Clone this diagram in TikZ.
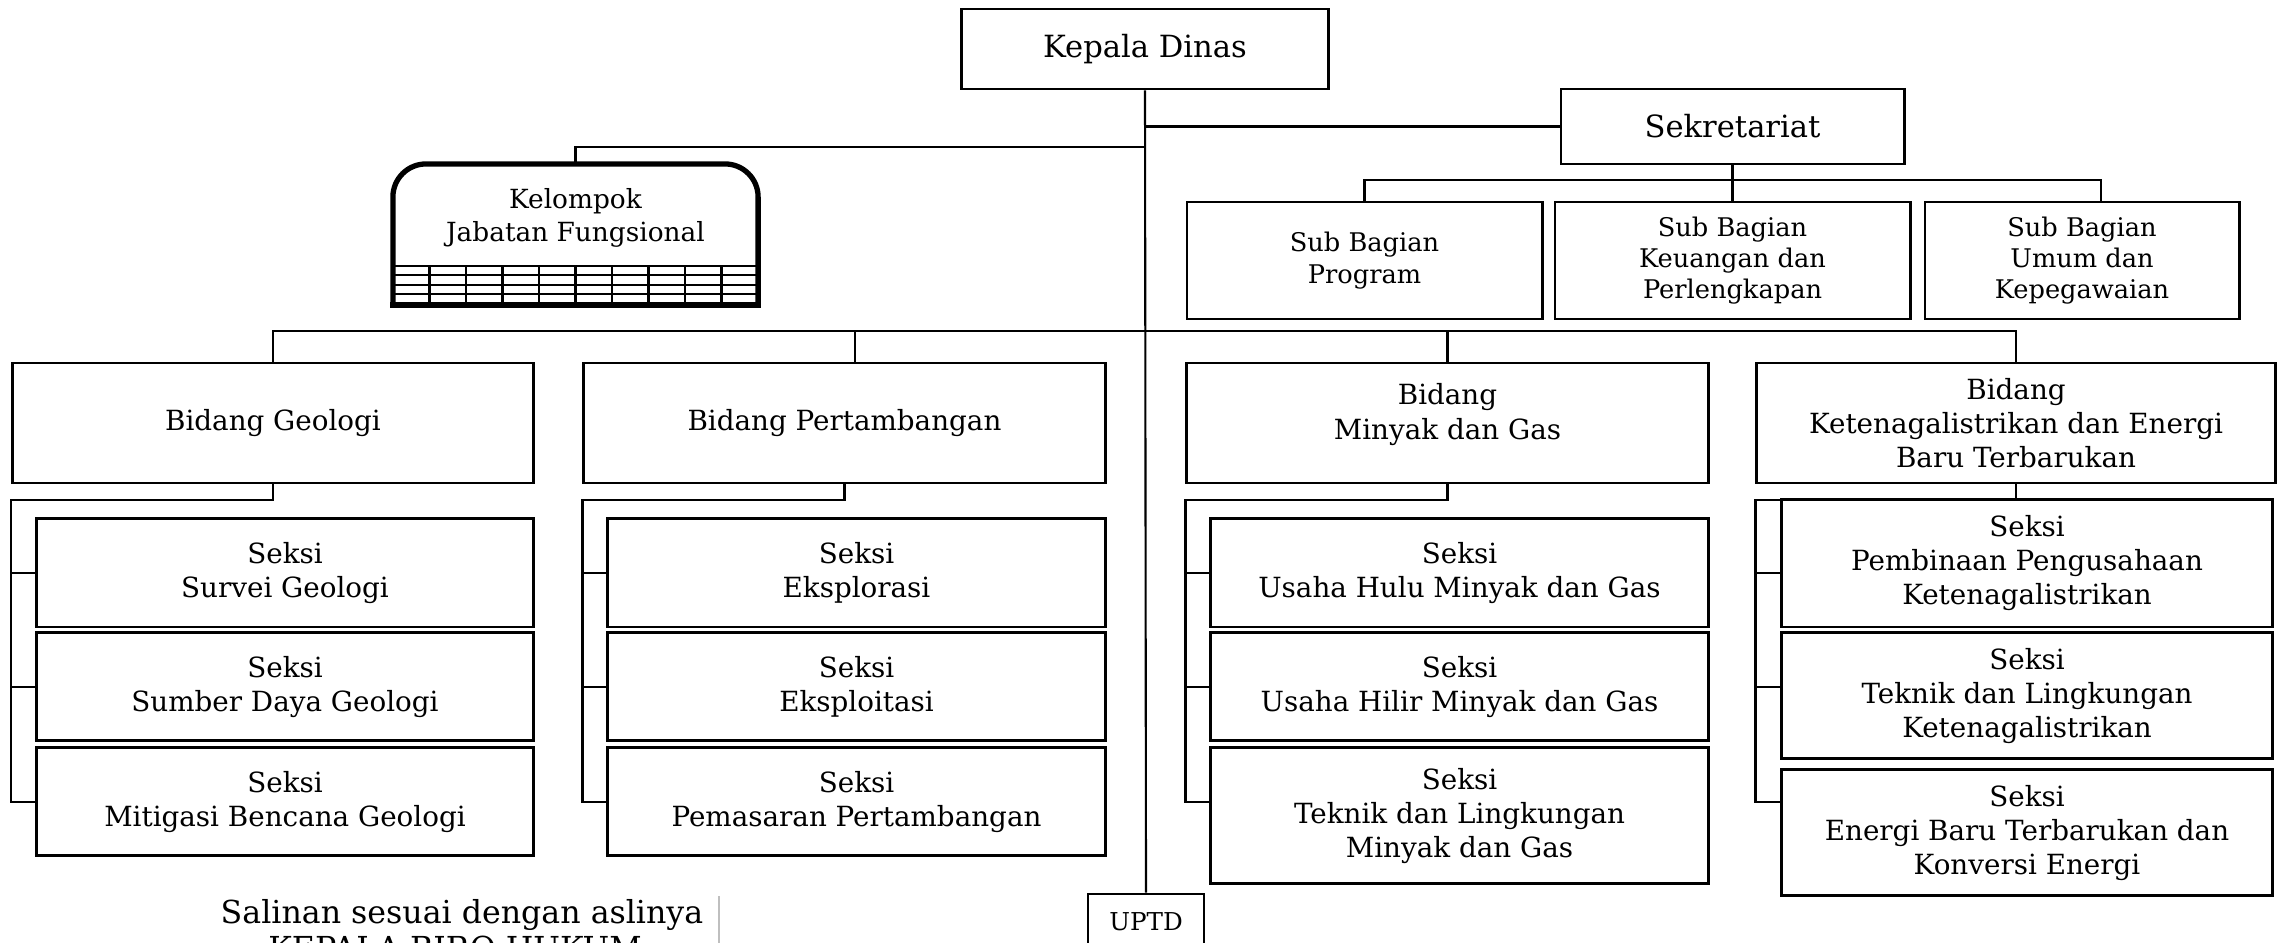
\documentclass[tikz,border=0pt]{standalone}
\usepackage{fontspec}
\setmainfont{DejaVu Serif}
\usetikzlibrary{positioning}
\newcommand{\isi}{\fontsize{7.9}{9.7}\selectfont}
\newcommand{\isikecil}{\fontsize{7.3}{8.9}\selectfont}
\newcommand{\judul}{\fontsize{8.7}{10}\selectfont}

\begin{document}
\begin{tikzpicture}[
    x=0.01cm, y=-0.01cm,
    kotak/.style={rectangle, draw, line width=0.8pt, align=center, inner sep=0pt, font=\isi},
    bidangnode/.style={kotak, minimum width=5.21cm, minimum height=1.20cm},
    seksinode/.style={kotak, minimum width=4.97cm, minimum height=1.08cm},
    subnode/.style={kotak, font=\isikecil, minimum width=3.55cm, minimum height=1.17cm},
    garis/.style={line width=0.6pt},
    ]
    \useasboundingbox (0,0) rectangle (2281,943);
    \clip (0,0) rectangle (2281,943);

    %Nodes
    \node[kotak, font=\judul, minimum width=3.66cm, minimum height=0.80cm] (kepala) at (1145,49) {Kepala Dinas};
    \node[kotak, font=\judul, minimum width=3.43cm, minimum height=0.75cm] (sekretariat) at (1732.5,126.5) {Sekretariat};
    \node[align=center, font=\fontsize{7.5}{9.4}\selectfont, minimum width=3.65cm, minimum height=1.08cm, inner sep=0pt, outer sep=0pt] (kelompok) at (575.5,218) {Kelompok\\Jabatan Fungsional};

    \node[subnode] (subprogram) at (1364.5,260.5) {Sub Bagian\\Program};
    \node[subnode] (subkeu) [right=0.10cm of subprogram] {Sub Bagian\\Keuangan dan\\Perlengkapan};
    \node[subnode, minimum width=3.14cm] (subumum) [right=0.12cm of subkeu] {Sub Bagian\\Umum dan\\Kepegawaian};

    \node[bidangnode] (bidgeo) at (273,423) {Bidang Geologi};
    \node[bidangnode] (bidtambang) at (844.5,423) {Bidang Pertambangan};
    \node[bidangnode] (bidminyak) at (1447.5,423) {Bidang\\Minyak dan Gas\\[-0.4em]};
    \node[bidangnode, minimum width=5.18cm] (bidlistrik) at (2016,423) {Bidang\\Ketenagalistrikan dan Energi\\Baru Terbarukan};

    \node[seksinode] (geo1) [below left=0.33cm and 0cm of bidgeo.south east] {Seksi\\Survei Geologi};
    \node[seksinode] (geo2) [below=0.03cm of geo1] {Seksi\\Sumber Daya Geologi};
    \node[seksinode] (geo3) [below=0.04cm of geo2] {Seksi\\Mitigasi Bencana Geologi};

    \node[seksinode] (tambang1) [below left=0.33cm and 0cm of bidtambang.south east] {Seksi\\Eksplorasi};
    \node[seksinode] (tambang2) [below=0.03cm of tambang1] {Seksi\\Eksploitasi};
    \node[seksinode] (tambang3) [below=0.04cm of tambang2] {Seksi\\Pemasaran Pertambangan};

    \node[seksinode] (minyak1) [below left=0.33cm and 0cm of bidminyak.south east] {Seksi\\Usaha Hulu Minyak dan Gas};
    \node[seksinode] (minyak2) [below=0.03cm of minyak1] {Seksi\\Usaha Hilir Minyak dan Gas};
    \node[seksinode, minimum height=1.36cm] (minyak3) [below=0.04cm of minyak2] {Seksi\\Teknik dan Lingkungan\\Minyak dan Gas};

    \node[seksinode, minimum width=4.90cm, minimum height=1.27cm] (listrik1) [below left=0.14cm and 0.03cm of bidlistrik.south east] {Seksi\\Pembinaan Pengusahaan\\Ketenagalistrikan};
    \node[seksinode, minimum width=4.90cm, minimum height=1.26cm] (listrik2) [below=0.03cm of listrik1] {Seksi\\Teknik dan Lingkungan\\Ketenagalistrikan};
    \node[seksinode, minimum width=4.90cm, minimum height=1.26cm] (listrik3) [below=0.08cm of listrik2] {Seksi\\Energi Baru Terbarukan dan\\Konversi Energi};

    \node[kotak, font=\fontsize{7}{8}\selectfont, minimum width=1.16cm, minimum height=0.56cm] (uptd) at (1146,922) {UPTD};

    \node[anchor=base, font=\fontsize{9}{10}\selectfont, inner sep=0pt] (salinan) at (462,923) {Salinan sesuai dengan aslinya};
    \node[anchor=base, font=\fontsize{9}{10}\selectfont, inner sep=0pt] (kepalabiro) at (455,959) {KEPALA BIRO HUKUM};
    \draw[gray!50, line width=0.4pt] (719,896) -- (719,943);

    %Kelompok box
    \draw[line width=1.5pt, line cap=rect, rounded corners=0.33cm] ([yshift=-0.33cm]kelompok.south west) -- (kelompok.north west) -- (kelompok.north east) -- ([yshift=-0.33cm]kelompok.south east);
    \draw[line width=1.5pt, line cap=rect] ([yshift=-0.33cm]kelompok.south west) -- ([yshift=-0.33cm]kelompok.south east);
    \foreach \gy in {266,275,285,294} \draw[garis] (393,\gy) -- (758,\gy);
    \foreach \gx in {1,...,9} \draw[garis] (393+36.5*\gx,266) -- (393+36.5*\gx,305);

    %Lines
    \coordinate (jf) at (1145,147);
    \coordinate (sb) at (2101,180);
    \coordinate (bb) at (2016,331);
    \coordinate (tb) at (855,331);
    \coordinate (sy) at (0,500);
    \draw[garis] (kepala.south) -- (uptd.north);
    \draw[garis] (kepala.south |- sekretariat.west) -- (sekretariat.west);
    \draw[garis] (jf) -| (kelompok.north);
    \draw[garis] (sekretariat.south) -- (sekretariat.south |- subkeu.north);
    \draw[garis] (subprogram.north) |- (sb) -- (subumum.north -| sb);
    \draw[garis] (bidgeo.north) |- (bb) -- (bidlistrik.north);
    \draw[garis] (tb) -- (bidtambang.north -| tb);
    \draw[garis] (bidminyak.north |- bb) -- (bidminyak.north);
    \foreach \b/\s in {bidgeo/geo, bidtambang/tambang, bidminyak/minyak, bidlistrik/listrik}{
        \draw[garis] (\b.south) |- (\b.west |- sy) -- (\b.west |- geo3) -- (\s3.west |- geo3);
        \draw[garis] (\b.west |- geo1) -- (\s1.west |- geo1);
        \draw[garis] (\b.west |- geo2) -- (\s2.west |- geo2);
    }
\end{tikzpicture}
\end{document}
